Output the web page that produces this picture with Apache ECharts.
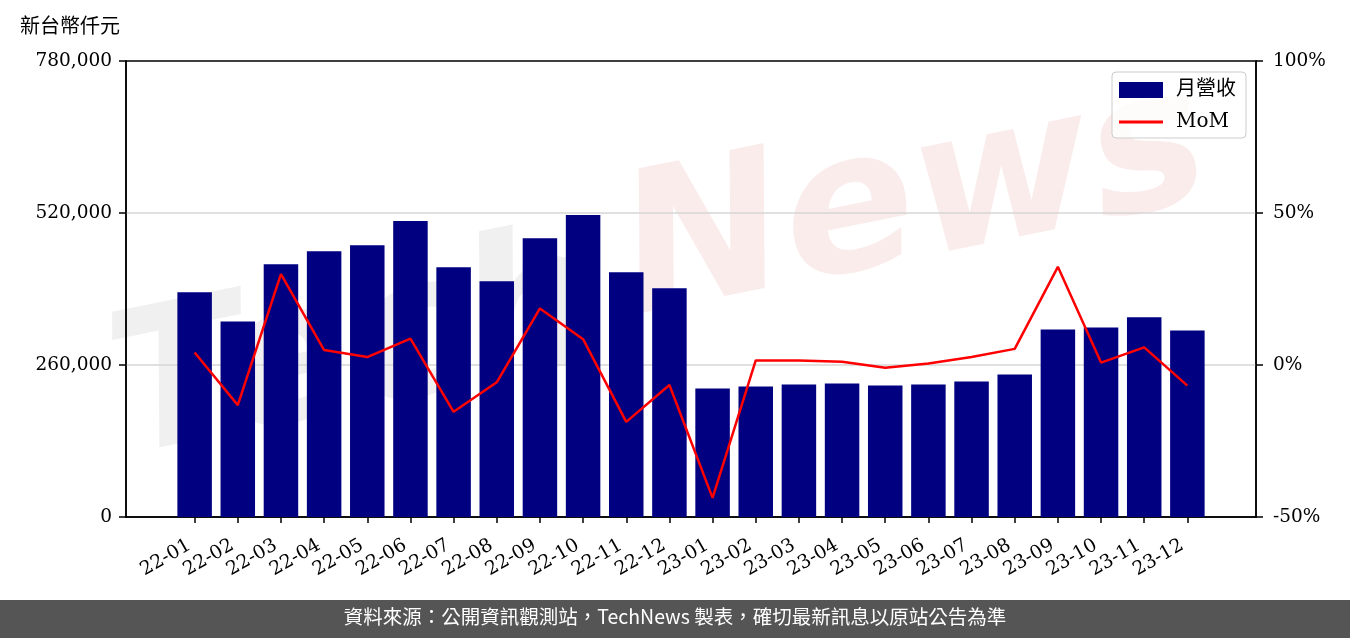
<!DOCTYPE html>
<html>
<head>
<meta charset="utf-8">
<script src="https://cdn.jsdelivr.net/npm/echarts@6/dist/echarts.min.js"></script>
<style>
html,body{margin:0;padding:0;background:#fff;}
#chart{width:1350px;height:638px;}
</style>
</head>
<body>
<div id="chart"></div>
<script>
const categories = ['22-01','22-02','22-03','22-04','22-05','22-06','22-07','22-08','22-09','22-10','22-11','22-12',
  '23-01','23-02','23-03','23-04','23-05','23-06','23-07','23-08','23-09','23-10','23-11','23-12'];
const revenue = [384400, 334600, 432400, 454700, 465000, 506200, 427300, 403300, 477000, 516500, 418700, 391200,
  219600, 223100, 226500, 228200, 224800, 226500, 231700, 243700, 320900, 324300, 341500, 319200];
const mom = [4.1, -13.2, 29.9, 4.9, 2.6, 8.7, -15.4, -5.7, 18.6, 8.5, -18.7, -6.6,
  -43.7, 1.5, 1.5, 1.1, -0.9, 0.5, 2.6, 5.3, 32.3, 0.8, 5.8, -6.8];
const leftTicks = [0, 260000, 520000, 780000];
const rightTicks = [-50, 0, 50, 100];
const unitLabel = '新台幣仟元';
const footerText = '資料來源：公開資訊觀測站，TechNews 製表，確切最新訊息以原站公告為準';

const serif = '"DejaVu Serif", "Noto Sans CJK TC", serif';
const idx = categories.map((_, i) => i);
const chart = echarts.init(document.getElementById('chart'), null, {renderer: 'canvas'});

chart.setOption({
  animation: false,
  backgroundColor: '#ffffff',
  grid: {left: 126, right: 94, top: 61, bottom: 121, show: true, borderColor: '#000', borderWidth: 1.5, backgroundColor: 'transparent'},
  graphic: [
    {type: 'text', left: 20, top: 15, style: {text: unitLabel, fontSize: 20, fill: '#000', fontFamily: '"Noto Sans CJK TC", sans-serif'}},
    {type: 'text', x: 135, y: 500, rotation: 0.2, z: -10, silent: true,
      style: {text: 'Tech', fontSize: 195, fontStyle: 'italic', fontWeight: 'bold', fill: 'rgba(170,170,170,0.18)', fontFamily: '"DejaVu Sans", sans-serif', verticalAlign: 'bottom'}},
    {type: 'text', x: 645, y: 360, rotation: 0.2, z: -10, silent: true,
      style: {text: 'News', fontSize: 195, fontStyle: 'italic', fontWeight: 'bold', fill: 'rgba(225,120,120,0.14)', fontFamily: '"DejaVu Sans", sans-serif', verticalAlign: 'bottom'}},
    {type: 'rect', left: 0, top: 600, shape: {width: 1350, height: 38}, style: {fill: '#555555'}},
    {type: 'text', left: 'center', top: 607, style: {text: footerText, fontSize: 19.5, fill: '#ffffff', fontFamily: '"Noto Sans CJK TC", sans-serif'}}
  ],
  legend: {
    orient: 'vertical', right: 104, top: 72,
    itemWidth: 44, itemHeight: 16, itemGap: 12,
    padding: [8, 10, 6, 7],
    borderColor: '#cccccc', borderWidth: 1, borderRadius: 4,
    backgroundColor: 'rgba(255,255,255,0.8)',
    textStyle: {fontSize: 20, fontFamily: serif, color: '#000', padding: [0, 0, 0, 8]},
    data: [
      {name: '月營收', icon: 'rect'},
      {name: 'MoM', icon: 'path://M0,0 M44,16 M0,6.5 L44,6.5 L44,9.5 L0,9.5 Z', itemStyle: {color: '#ff0000'}}
    ]
  },
  xAxis: [{
    type: 'value', min: -1.59, max: 24.59,
    axisLine: {show: true, onZero: false, lineStyle: {color: '#000', width: 1.5}},
    axisTick: {show: true, customValues: idx, length: 6, lineStyle: {color: '#000', width: 1.5}},
    axisLabel: {show: true, customValues: idx, rotate: 30, margin: 24, fontSize: 19, fontFamily: serif, color: '#000',
      formatter: v => (categories[Math.round(v)] || '') + ' '},
    splitLine: {show: false}
  }],
  yAxis: [{
    type: 'value', min: leftTicks[0], max: leftTicks[leftTicks.length - 1], interval: 260000,
    axisLine: {show: true, onZero: false, lineStyle: {color: '#000', width: 1.5}},
    axisTick: {show: true, length: 7, lineStyle: {color: '#000', width: 1.5}},
    axisLabel: {fontSize: 18.5, fontFamily: serif, color: '#000', margin: 14,
      formatter: v => v.toLocaleString('en-US')},
    splitLine: {show: true, showMinLine: false, showMaxLine: false, lineStyle: {color: '#d6d6d6', width: 1.5}}
  }, {
    type: 'value', position: 'right', min: rightTicks[0], max: rightTicks[rightTicks.length - 1], interval: 50,
    axisLine: {show: true, onZero: false, lineStyle: {color: '#000', width: 1.5}},
    axisTick: {show: true, length: 7, lineStyle: {color: '#000', width: 1.5}},
    axisLabel: {fontSize: 18.5, fontFamily: serif, color: '#000', margin: 17, formatter: v => v + '%'},
    splitLine: {show: false}
  }],
  series: [{
    name: '月營收', type: 'bar', yAxisIndex: 0, barWidth: 34.5,
    itemStyle: {color: '#000080'},
    data: revenue.map((v, i) => [i, v])
  }, {
    name: 'MoM', type: 'line', yAxisIndex: 1, symbol: 'none',
    lineStyle: {color: '#ff0000', width: 2.5}, itemStyle: {color: '#ff0000'},
    data: mom.map((v, i) => [i, v]), z: 5
  }]
});
</script>
</body>
</html>
